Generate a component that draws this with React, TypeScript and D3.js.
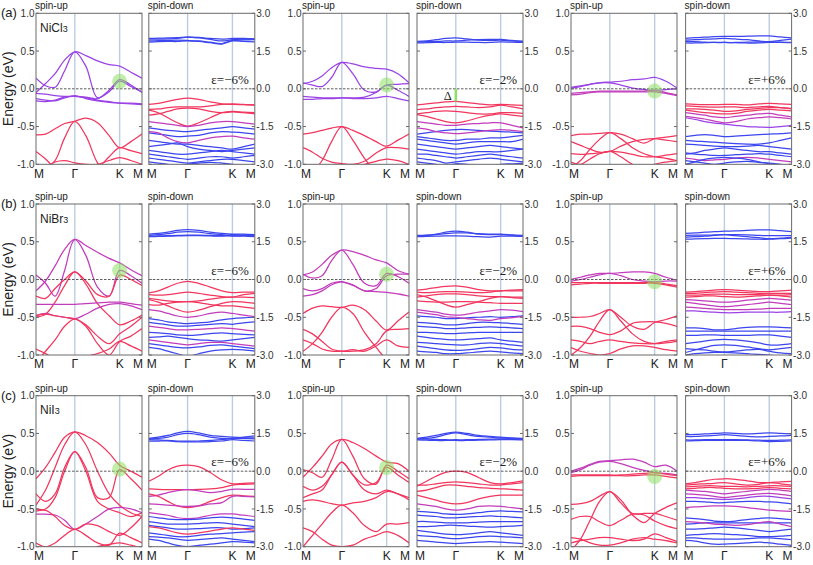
import React from "react";
import * as d3 from "d3";

type Band = [string, number[]];

// k-path sample points (fraction of M-Γ-K-M path length)
const kPts = [0, 0.09, 0.18, 0.27, 0.366, 0.47, 0.58, 0.69, 0.789, 0.895, 1];
const kLabels = ["M", "Γ", "K", "M"];
const kLabelPos = [0, 0.366, 0.789, 1];
const upTicks = [1.0, 0.5, 0.0, -0.5, -1.0];
const dnTicks = [3.0, 1.5, 0.0, -1.5, -3.0];
const rowTags = ["(a)", "(b)", "(c)"];
const compounds = ["NiCl", "NiBr", "NiI"];
const strains = ["ε=−6%", "ε=−2%", "ε=+6%"];
// energy of highlighted crossing at K (spin-up), per row / strain
const hotspotE = [
  [0.1, 0.05, -0.03],
  [0.12, 0.07, -0.03],
  [0.03, 0.05, -0.07],
];
// gap Δ marked in (a) ε=−2% spin-down at Γ
const gapTop = 0.0;
const gapBottom = -0.5;

// ---------- (a) NiCl3 ----------
const aUpM6: Band[] = [
  ["p", [-0.05, 0.07, 0.2, 0.38, 0.49, 0.44, 0.37, 0.32, 0.3, 0.22, 0.14]],
  ["p", [0.14, 0.04, 0.02, 0.24, 0.49, 0.3, -0.12, -0.02, 0.12, 0.05, -0.05]],
  ["p", [-0.06, -0.07, -0.09, -0.1, -0.1, -0.11, -0.13, -0.04, 0.1, 0.03, -0.04]],
  ["p", [-0.13, -0.15, -0.16, -0.12, -0.09, -0.13, -0.16, -0.18, -0.19, -0.19, -0.2]],
  ["p", [-0.16, -0.17, -0.15, -0.11, -0.1, -0.12, -0.15, -0.17, -0.19, -0.2, -0.21]],
  ["r", [-0.61, -0.6, -0.53, -0.46, -0.43, -0.39, -0.45, -0.62, -0.78, -0.7, -0.6]],
  ["r", [-1.15, -1.05, -0.95, -0.65, -0.43, -0.62, -0.98, -1.15, -1.2, -1.2, -1.2]],
  ["r", [-0.83, -0.93, -1.05, -1.1, -1.1, -1.1, -1.05, -0.9, -0.78, -0.82, -0.86]],
  ["r", [-1.1, -1.05, -0.97, -0.95, -0.98, -1.0, -1.0, -0.95, -0.91, -0.95, -1.0]],
];
const aDnM6: Band[] = [
  ["b", [2.0, 2.01, 2.02, 2.03, 2.05, 2.04, 2.0, 1.97, 2.0, 2.0, 1.98]],
  ["b", [1.97, 1.97, 1.98, 2.0, 2.05, 2.02, 1.96, 1.9, 1.95, 1.97, 1.97]],
  ["b", [1.9, 1.91, 1.92, 1.93, 1.92, 1.9, 1.85, 1.8, 1.92, 1.94, 1.95]],
  ["b", [1.85, 1.87, 1.88, 1.88, 1.9, 1.88, 1.83, 1.78, 1.9, 1.88, 1.86]],
  ["r", [-0.62, -0.58, -0.5, -0.42, -0.37, -0.42, -0.52, -0.6, -0.62, -0.63, -0.64]],
  ["r", [-0.82, -0.8, -0.75, -0.72, -0.72, -0.72, -0.68, -0.62, -0.6, -0.62, -0.65]],
  ["r", [-0.85, -0.95, -1.15, -1.35, -1.48, -1.35, -1.15, -0.95, -0.9, -0.93, -0.95]],
  ["r", [-1.05, -1.0, -0.9, -0.8, -0.77, -0.8, -0.9, -0.95, -0.92, -0.95, -1.0]],
  ["m", [-1.3, -1.35, -1.4, -1.45, -1.5, -1.45, -1.35, -1.3, -1.3, -1.35, -1.4]],
  ["b", [-1.55, -1.6, -1.65, -1.68, -1.7, -1.65, -1.6, -1.55, -1.5, -1.55, -1.6]],
  ["b", [-1.75, -1.8, -1.85, -1.9, -1.88, -1.85, -1.75, -1.7, -1.72, -1.75, -1.8]],
  ["m", [-1.7, -1.75, -1.95, -2.1, -2.15, -2.05, -1.95, -1.9, -1.88, -1.95, -2.0]],
  ["b", [-2.05, -2.1, -2.15, -2.2, -2.2, -2.25, -2.3, -2.35, -2.4, -2.3, -2.2]],
  ["b", [-2.3, -2.25, -2.2, -2.15, -2.3, -2.4, -2.45, -2.5, -2.45, -2.4, -2.35]],
  ["b", [-2.45, -2.5, -2.55, -2.6, -2.6, -2.55, -2.5, -2.45, -2.5, -2.55, -2.6]],
  ["b", [-2.6, -2.65, -2.7, -2.75, -2.8, -2.75, -2.7, -2.7, -2.75, -2.7, -2.65]],
  ["b", [-2.75, -2.8, -2.85, -2.9, -2.95, -2.9, -2.85, -2.8, -2.8, -2.85, -2.9]],
  ["b", [-2.9, -2.95, -3.0, -3.05, -3.0, -2.95, -2.92, -2.95, -3.0, -3.05, -3.1]],
];
const aUpM2: Band[] = [
  ["p", [0.07, 0.1, 0.17, 0.28, 0.35, 0.33, 0.29, 0.27, 0.26, 0.2, 0.08]],
  ["p", [0.08, 0.05, 0.03, 0.15, 0.35, 0.2, -0.02, -0.04, 0.05, -0.02, -0.1]],
  ["p", [-0.1, -0.11, -0.12, -0.12, -0.12, -0.12, -0.11, -0.05, 0.05, 0.06, 0.07]],
  ["p", [-0.14, -0.14, -0.13, -0.13, -0.12, -0.13, -0.13, -0.12, -0.1, -0.13, -0.16]],
  ["r", [-0.6, -0.58, -0.55, -0.52, -0.5, -0.55, -0.62, -0.7, -0.76, -0.68, -0.6]],
  ["r", [-1.2, -1.1, -0.95, -0.7, -0.5, -0.68, -0.92, -1.1, -1.2, -1.2, -1.2]],
  ["r", [-0.78, -0.84, -0.92, -0.97, -0.99, -1.0, -0.96, -0.85, -0.78, -0.78, -0.8]],
  ["r", [-1.1, -1.1, -1.1, -1.1, -1.1, -1.05, -1.0, -0.96, -0.93, -0.95, -1.0]],
];
const aDnM2: Band[] = [
  ["b", [1.88, 1.9, 1.95, 2.0, 2.02, 1.98, 1.93, 1.92, 1.93, 1.9, 1.88]],
  ["b", [1.86, 1.87, 1.88, 1.9, 1.9, 1.93, 1.95, 1.96, 1.96, 1.92, 1.88]],
  ["b", [1.82, 1.83, 1.84, 1.84, 1.85, 1.85, 1.84, 1.84, 1.86, 1.85, 1.84]],
  ["r", [-0.64, -0.6, -0.56, -0.52, -0.5, -0.55, -0.6, -0.64, -0.62, -0.64, -0.66]],
  ["r", [-0.83, -0.8, -0.75, -0.72, -0.7, -0.72, -0.75, -0.72, -0.65, -0.72, -0.8]],
  ["r", [-1.0, -0.95, -0.9, -0.88, -0.9, -0.95, -1.0, -1.0, -0.95, -0.95, -0.98]],
  ["r", [-1.03, -1.1, -1.2, -1.3, -1.35, -1.28, -1.15, -1.05, -1.0, -1.05, -1.1]],
  ["m", [-1.3, -1.35, -1.4, -1.45, -1.45, -1.4, -1.38, -1.35, -1.35, -1.45, -1.55]],
  ["b", [-1.8, -1.75, -1.7, -1.65, -1.62, -1.62, -1.65, -1.68, -1.7, -1.72, -1.75]],
  ["m", [-1.55, -1.6, -1.7, -1.75, -1.78, -1.75, -1.7, -1.65, -1.62, -1.65, -1.7]],
  ["b", [-1.9, -1.95, -2.0, -2.05, -2.05, -2.0, -2.0, -1.95, -1.95, -1.9, -1.85]],
  ["b", [-2.0, -2.05, -2.1, -2.15, -2.2, -2.15, -2.1, -2.1, -2.1, -2.1, -2.0]],
  ["b", [-2.2, -2.25, -2.3, -2.35, -2.4, -2.35, -2.3, -2.25, -2.3, -2.35, -2.4]],
  ["b", [-2.4, -2.45, -2.5, -2.55, -2.6, -2.55, -2.5, -2.5, -2.5, -2.45, -2.4]],
  ["b", [-2.6, -2.6, -2.65, -2.7, -2.75, -2.7, -2.65, -2.6, -2.65, -2.7, -2.75]],
  ["b", [-2.75, -2.8, -2.85, -2.95, -2.9, -2.85, -2.8, -2.75, -2.8, -2.85, -2.9]],
  ["b", [-2.9, -2.95, -3.0, -3.05, -2.98, -3.0, -3.05, -3.1, -3.0, -2.98, -2.95]],
];
const aUpP6: Band[] = [
  ["p", [0.02, 0.04, 0.06, 0.08, 0.09, 0.1, 0.12, 0.13, 0.15, 0.1, 0.01]],
  ["p", [0.01, 0.03, 0.06, 0.08, 0.08, 0.05, 0.01, -0.01, -0.02, -0.01, 0.0]],
  ["m", [-0.06, -0.05, -0.04, -0.03, -0.03, -0.03, -0.03, -0.03, -0.02, -0.05, -0.08]],
  ["m", [-0.08, -0.07, -0.05, -0.04, -0.04, -0.04, -0.04, -0.04, -0.04, -0.06, -0.09]],
  ["r", [-0.62, -0.6, -0.6, -0.59, -0.58, -0.6, -0.66, -0.72, -0.66, -0.64, -0.62]],
  ["r", [-1.05, -0.95, -0.8, -0.67, -0.58, -0.66, -0.78, -0.86, -0.9, -0.92, -0.95]],
  ["r", [-0.7, -0.75, -0.8, -0.84, -0.83, -0.76, -0.7, -0.67, -0.66, -0.68, -0.7]],
  ["r", [-0.86, -0.87, -0.86, -0.85, -0.83, -0.84, -0.87, -0.9, -0.9, -0.88, -0.86]],
  ["r", [-0.97, -1.0, -0.93, -0.86, -0.83, -0.9, -1.0, -1.05, -1.0, -0.97, -0.95]],
];
const aDnP6: Band[] = [
  ["b", [2.0, 2.03, 2.05, 2.07, 2.08, 2.08, 2.09, 2.1, 2.1, 2.06, 2.02]],
  ["b", [1.93, 1.95, 1.97, 1.98, 2.0, 1.98, 1.95, 1.9, 1.87, 1.92, 1.97]],
  ["b", [1.82, 1.82, 1.83, 1.84, 1.84, 1.83, 1.82, 1.82, 1.84, 1.84, 1.83]],
  ["b", [1.88, 1.87, 1.85, 1.84, 1.84, 1.84, 1.85, 1.86, 1.86, 1.85, 1.84]],
  ["r", [-0.6, -0.62, -0.63, -0.63, -0.62, -0.62, -0.64, -0.6, -0.58, -0.6, -0.62]],
  ["r", [-0.68, -0.7, -0.72, -0.73, -0.72, -0.72, -0.75, -0.72, -0.7, -0.75, -0.8]],
  ["r", [-0.8, -0.8, -0.82, -0.85, -0.9, -0.88, -0.82, -0.78, -0.75, -0.75, -0.78]],
  ["r", [-0.85, -0.9, -0.95, -0.98, -1.0, -0.98, -0.9, -0.85, -0.82, -0.85, -0.88]],
  ["m", [-0.95, -1.0, -1.05, -1.12, -1.15, -1.1, -1.05, -1.0, -0.98, -1.05, -1.12]],
  ["m", [-1.1, -1.15, -1.2, -1.28, -1.35, -1.3, -1.2, -1.15, -1.12, -1.15, -1.2]],
  ["p", [-1.15, -1.22, -1.3, -1.36, -1.4, -1.45, -1.5, -1.52, -1.53, -1.5, -1.45]],
  ["b", [-1.9, -1.85, -1.82, -1.85, -1.9, -1.88, -1.85, -1.82, -1.8, -1.78, -1.75]],
  ["b", [-2.05, -2.08, -2.1, -2.12, -2.15, -2.18, -2.2, -2.2, -2.15, -2.05, -1.95]],
  ["b", [-2.2, -2.22, -2.25, -2.28, -2.3, -2.3, -2.28, -2.25, -2.3, -2.35, -2.4]],
  ["b", [-2.6, -2.55, -2.45, -2.4, -2.35, -2.4, -2.45, -2.5, -2.5, -2.55, -2.6]],
  ["b", [-2.55, -2.6, -2.62, -2.65, -2.65, -2.62, -2.6, -2.58, -2.6, -2.65, -2.7]],
  ["m", [-2.75, -2.8, -2.85, -2.82, -2.8, -2.75, -2.72, -2.75, -2.8, -2.85, -2.9]],
  ["b", [-2.85, -2.9, -2.95, -3.0, -2.95, -2.9, -2.88, -2.92, -2.95, -3.0, -3.05]],
  ["b", [-3.0, -2.9, -2.8, -2.75, -2.72, -2.75, -2.8, -2.9, -2.98, -3.05, -3.1]],
];

// ---------- (b) NiBr3 ----------
const bUpM6: Band[] = [
  ["m", [0.06, -0.05, -0.22, 0.12, 0.53, 0.45, 0.36, 0.28, 0.22, 0.13, 0.05]],
  ["m", [-0.15, -0.02, 0.18, 0.4, 0.53, 0.32, -0.1, -0.22, 0.12, 0.05, -0.05]],
  ["r", [-0.22, -0.25, -0.12, 0.0, 0.1, -0.02, -0.2, -0.22, 0.06, 0.0, -0.08]],
  ["r", [-0.5, -0.46, -0.3, -0.08, 0.1, -0.06, -0.32, -0.48, -0.6, -0.55, -0.47]],
  ["m", [-0.33, -0.33, -0.33, -0.33, -0.33, -0.32, -0.31, -0.3, -0.3, -0.32, -0.34]],
  ["m", [-0.48, -0.45, -0.48, -0.5, -0.52, -0.46, -0.38, -0.33, -0.32, -0.35, -0.4]],
  ["r", [-0.48, -0.46, -0.48, -0.5, -0.52, -0.6, -0.75, -0.85, -0.72, -0.62, -0.5]],
  ["r", [-1.1, -0.95, -0.8, -0.62, -0.52, -0.62, -0.85, -1.0, -0.82, -0.75, -0.65]],
  ["r", [-0.92, -0.98, -1.05, -1.05, -1.05, -1.02, -0.98, -0.92, -0.82, -0.88, -0.95]],
];
const bDnM6: Band[] = [
  ["b", [1.8, 1.83, 1.88, 1.95, 1.98, 1.95, 1.88, 1.83, 1.8, 1.8, 1.78]],
  ["b", [1.75, 1.78, 1.82, 1.88, 1.9, 1.88, 1.82, 1.78, 1.72, 1.75, 1.78]],
  ["b", [1.72, 1.73, 1.74, 1.75, 1.76, 1.76, 1.75, 1.74, 1.78, 1.76, 1.74]],
  ["b", [1.7, 1.71, 1.72, 1.73, 1.74, 1.74, 1.73, 1.72, 1.74, 1.72, 1.7]],
  ["r", [-0.53, -0.45, -0.3, -0.15, -0.07, -0.15, -0.3, -0.45, -0.52, -0.5, -0.5]],
  ["r", [-0.6, -0.62, -0.6, -0.55, -0.5, -0.55, -0.62, -0.68, -0.7, -0.6, -0.55]],
  ["r", [-0.75, -0.8, -0.85, -0.88, -0.88, -0.85, -0.78, -0.72, -0.7, -0.7, -0.72]],
  ["r", [-0.8, -0.9, -1.05, -1.2, -1.3, -1.22, -1.08, -0.95, -0.88, -0.9, -0.95]],
  ["r", [-1.0, -1.02, -0.95, -0.9, -0.88, -0.92, -1.0, -1.05, -1.05, -1.1, -1.15]],
  ["m", [-1.2, -1.25, -1.35, -1.45, -1.5, -1.45, -1.35, -1.3, -1.35, -1.42, -1.48]],
  ["b", [-1.55, -1.6, -1.68, -1.72, -1.75, -1.72, -1.68, -1.6, -1.55, -1.52, -1.5]],
  ["b", [-1.7, -1.75, -1.8, -1.85, -1.85, -1.82, -1.78, -1.75, -1.78, -1.72, -1.68]],
  ["m", [-1.85, -1.9, -1.95, -2.0, -2.0, -1.98, -1.95, -1.92, -1.95, -2.0, -2.05]],
  ["b", [-2.1, -2.12, -2.15, -2.2, -2.22, -2.2, -2.15, -2.12, -2.15, -2.18, -2.2]],
  ["b", [-2.3, -2.28, -2.25, -2.3, -2.35, -2.4, -2.42, -2.45, -2.4, -2.35, -2.3]],
  ["m", [-2.4, -2.45, -2.5, -2.55, -2.6, -2.55, -2.5, -2.5, -2.55, -2.6, -2.65]],
  ["b", [-2.55, -2.6, -2.65, -2.7, -2.72, -2.68, -2.62, -2.6, -2.65, -2.7, -2.75]],
  ["b", [-2.7, -2.75, -2.85, -2.95, -3.05, -2.95, -2.85, -2.8, -2.78, -2.8, -2.85]],
];
const bUpM2: Band[] = [
  ["m", [0.06, 0.1, 0.2, 0.32, 0.39, 0.37, 0.32, 0.26, 0.22, 0.12, 0.07]],
  ["m", [0.07, 0.02, 0.05, 0.25, 0.39, 0.2, -0.05, -0.08, 0.08, 0.04, -0.05]],
  ["m", [-0.12, -0.15, -0.12, -0.05, -0.03, -0.07, -0.15, -0.12, 0.05, 0.07, 0.07]],
  ["m", [-0.22, -0.2, -0.15, -0.07, -0.03, -0.08, -0.15, -0.16, -0.17, -0.19, -0.22]],
  ["r", [-0.45, -0.38, -0.35, -0.36, -0.37, -0.34, -0.4, -0.55, -0.67, -0.55, -0.43]],
  ["r", [-0.95, -0.85, -0.7, -0.5, -0.37, -0.45, -0.7, -0.9, -1.05, -1.1, -1.1]],
  ["r", [-0.66, -0.72, -0.82, -0.92, -0.95, -0.95, -0.93, -0.85, -0.68, -0.66, -0.65]],
  ["r", [-0.8, -0.85, -0.92, -0.95, -0.95, -0.93, -0.95, -0.88, -0.8, -0.88, -0.9]],
];
const bDnM2: Band[] = [
  ["b", [1.72, 1.75, 1.8, 1.88, 1.92, 1.88, 1.8, 1.78, 1.78, 1.76, 1.75]],
  ["b", [1.75, 1.76, 1.78, 1.82, 1.85, 1.85, 1.82, 1.8, 1.8, 1.77, 1.74]],
  ["b", [1.7, 1.71, 1.72, 1.73, 1.73, 1.72, 1.7, 1.68, 1.72, 1.72, 1.71]],
  ["r", [-0.42, -0.38, -0.32, -0.27, -0.25, -0.3, -0.4, -0.45, -0.45, -0.42, -0.4]],
  ["r", [-0.5, -0.52, -0.5, -0.48, -0.48, -0.5, -0.52, -0.5, -0.45, -0.45, -0.45]],
  ["r", [-0.7, -0.65, -0.6, -0.57, -0.57, -0.6, -0.65, -0.68, -0.68, -0.7, -0.7]],
  ["r", [-0.6, -0.7, -0.85, -1.0, -1.1, -1.0, -0.88, -0.75, -0.68, -0.72, -0.75]],
  ["r", [-0.85, -0.88, -0.9, -0.9, -0.88, -0.88, -0.9, -0.92, -0.95, -0.95, -0.95]],
  ["m", [-1.2, -1.25, -1.3, -1.38, -1.42, -1.38, -1.3, -1.25, -1.2, -1.22, -1.28]],
  ["b", [-1.45, -1.48, -1.5, -1.55, -1.55, -1.52, -1.5, -1.48, -1.5, -1.48, -1.45]],
  ["m", [-1.3, -1.35, -1.4, -1.48, -1.5, -1.55, -1.6, -1.62, -1.55, -1.52, -1.48]],
  ["b", [-1.7, -1.72, -1.75, -1.8, -1.8, -1.75, -1.7, -1.7, -1.72, -1.75, -1.78]],
  ["b", [-1.85, -1.88, -1.9, -1.95, -1.95, -1.92, -1.9, -1.88, -1.9, -1.92, -1.95]],
  ["b", [-2.1, -2.1, -2.12, -2.15, -2.15, -2.12, -2.1, -2.1, -2.1, -2.1, -2.1]],
  ["b", [-2.25, -2.3, -2.35, -2.38, -2.4, -2.38, -2.35, -2.32, -2.4, -2.45, -2.5]],
  ["b", [-2.5, -2.52, -2.55, -2.58, -2.6, -2.6, -2.55, -2.52, -2.55, -2.6, -2.65]],
  ["b", [-2.65, -2.7, -2.75, -2.8, -2.82, -2.8, -2.75, -2.7, -2.72, -2.78, -2.8]],
  ["b", [-2.85, -2.88, -2.9, -2.95, -2.95, -2.92, -2.88, -2.85, -2.88, -2.92, -2.95]],
];
const bUpP6: Band[] = [
  ["m", [0.0, 0.03, 0.06, 0.08, 0.08, 0.09, 0.1, 0.1, 0.08, 0.03, -0.01]],
  ["m", [-0.02, 0.0, 0.03, 0.06, 0.08, 0.05, 0.0, -0.02, -0.03, -0.02, -0.02]],
  ["r", [-0.04, -0.04, -0.04, -0.04, -0.04, -0.04, -0.04, -0.04, -0.04, -0.06, -0.08]],
  ["r", [-0.07, -0.06, -0.05, -0.05, -0.05, -0.05, -0.05, -0.05, -0.05, -0.07, -0.1]],
  ["r", [-0.5, -0.5, -0.49, -0.45, -0.4, -0.5, -0.62, -0.66, -0.57, -0.53, -0.48]],
  ["r", [-0.62, -0.62, -0.65, -0.7, -0.73, -0.68, -0.58, -0.56, -0.56, -0.58, -0.62]],
  ["r", [-1.0, -0.9, -0.75, -0.55, -0.4, -0.55, -0.72, -0.82, -0.85, -0.84, -0.82]],
  ["r", [-0.8, -0.82, -0.85, -0.82, -0.8, -0.82, -0.84, -0.85, -0.85, -0.82, -0.8]],
  ["r", [-0.9, -0.95, -0.98, -1.0, -0.98, -0.92, -0.88, -0.88, -0.9, -0.93, -0.95]],
];
const bDnP6: Band[] = [
  ["b", [1.83, 1.85, 1.88, 1.9, 1.92, 1.93, 1.95, 1.97, 1.97, 1.94, 1.9]],
  ["b", [1.68, 1.7, 1.72, 1.75, 1.78, 1.74, 1.7, 1.66, 1.62, 1.64, 1.67]],
  ["b", [1.6, 1.61, 1.62, 1.63, 1.63, 1.62, 1.61, 1.6, 1.6, 1.62, 1.64]],
  ["b", [1.75, 1.76, 1.76, 1.77, 1.78, 1.78, 1.77, 1.75, 1.74, 1.74, 1.74]],
  ["r", [-0.5, -0.48, -0.45, -0.42, -0.4, -0.42, -0.45, -0.48, -0.48, -0.45, -0.42]],
  ["r", [-0.55, -0.55, -0.52, -0.5, -0.48, -0.5, -0.52, -0.55, -0.55, -0.55, -0.55]],
  ["r", [-0.62, -0.62, -0.6, -0.58, -0.58, -0.6, -0.6, -0.6, -0.62, -0.62, -0.6]],
  ["r", [-0.7, -0.68, -0.65, -0.65, -0.68, -0.7, -0.68, -0.65, -0.62, -0.65, -0.7]],
  ["m", [-0.8, -0.82, -0.85, -0.88, -0.9, -0.88, -0.82, -0.78, -0.75, -0.78, -0.82]],
  ["m", [-0.9, -0.95, -1.0, -1.05, -1.08, -1.05, -1.0, -0.95, -0.9, -0.95, -1.0]],
  ["m", [-1.1, -1.12, -1.15, -1.18, -1.2, -1.2, -1.2, -1.18, -1.15, -1.15, -1.15]],
  ["p", [-1.25, -1.25, -1.28, -1.3, -1.32, -1.32, -1.3, -1.3, -1.3, -1.3, -1.28]],
  ["b", [-1.92, -1.92, -1.95, -2.0, -2.0, -1.95, -1.9, -1.88, -1.88, -1.9, -1.92]],
  ["b", [-2.05, -2.05, -2.05, -2.05, -2.05, -2.05, -2.05, -2.05, -2.05, -2.05, -2.05]],
  ["b", [-2.22, -2.22, -2.2, -2.2, -2.22, -2.22, -2.22, -2.2, -2.2, -2.25, -2.3]],
  ["b", [-2.55, -2.5, -2.45, -2.4, -2.38, -2.4, -2.45, -2.52, -2.6, -2.6, -2.55]],
  ["b", [-2.9, -2.8, -2.7, -2.62, -2.6, -2.62, -2.68, -2.75, -2.8, -2.75, -2.7]],
  ["b", [-2.75, -2.78, -2.8, -2.85, -2.88, -2.85, -2.8, -2.78, -2.85, -2.92, -2.95]],
  ["b", [-3.0, -2.95, -2.92, -2.9, -2.9, -2.92, -2.95, -2.98, -3.0, -3.05, -3.1]],
];

// ---------- (c) NiI3 ----------
const cUpM6: Band[] = [
  ["r", [-0.1, 0.05, 0.25, 0.45, 0.52, 0.47, 0.38, 0.24, 0.08, 0.0, -0.08]],
  ["r", [-0.45, -0.25, 0.05, 0.35, 0.52, 0.35, 0.0, -0.3, -0.45, -0.55, -0.6]],
  ["r", [-0.3, -0.4, -0.3, 0.05, 0.26, 0.05, -0.35, -0.35, 0.02, -0.1, -0.25]],
  ["r", [-0.5, -0.5, -0.35, 0.0, 0.26, 0.0, -0.4, -0.5, -0.55, -0.6, -0.55]],
  ["m", [-0.57, -0.57, -0.58, -0.65, -0.77, -0.7, -0.6, -0.5, -0.48, -0.5, -0.55]],
  ["r", [-0.53, -0.52, -0.6, -0.72, -0.77, -0.7, -0.72, -0.8, -0.85, -0.75, -0.6]],
  ["r", [-0.95, -1.0, -0.95, -0.85, -0.77, -0.85, -0.95, -0.98, -0.82, -0.88, -0.95]],
  ["r", [-1.1, -1.05, -1.02, -1.05, -1.1, -1.05, -1.0, -0.97, -0.95, -0.98, -1.02]],
];
const cDnM6: Band[] = [
  ["b", [1.3, 1.35, 1.42, 1.52, 1.58, 1.52, 1.42, 1.38, 1.35, 1.33, 1.32]],
  ["b", [1.28, 1.3, 1.35, 1.45, 1.5, 1.45, 1.35, 1.3, 1.3, 1.35, 1.4]],
  ["b", [1.25, 1.24, 1.22, 1.2, 1.2, 1.2, 1.22, 1.25, 1.3, 1.3, 1.28]],
  ["b", [1.2, 1.2, 1.2, 1.18, 1.17, 1.17, 1.18, 1.2, 1.25, 1.22, 1.2]],
  ["r", [-0.4, -0.2, 0.05, 0.2, 0.24, 0.18, -0.05, -0.35, -0.5, -0.48, -0.46]],
  ["r", [-0.7, -0.72, -0.73, -0.73, -0.73, -0.72, -0.7, -0.65, -0.55, -0.52, -0.5]],
  ["m", [-1.0, -0.95, -0.85, -0.77, -0.73, -0.78, -0.85, -0.8, -0.72, -0.72, -0.72]],
  ["r", [-0.9, -1.0, -1.2, -1.38, -1.45, -1.38, -1.2, -1.05, -0.95, -0.98, -1.0]],
  ["m", [-1.3, -1.32, -1.35, -1.38, -1.4, -1.38, -1.3, -1.25, -1.0, -1.0, -1.02]],
  ["m", [-1.65, -1.7, -1.75, -1.85, -1.88, -1.85, -1.75, -1.7, -1.7, -1.75, -1.8]],
  ["b", [-1.8, -1.85, -1.9, -1.92, -1.92, -1.9, -1.85, -1.82, -1.85, -1.9, -1.95]],
  ["b", [-2.0, -2.05, -2.1, -2.1, -2.1, -2.08, -2.05, -2.05, -2.1, -2.15, -2.2]],
  ["b", [-2.15, -2.2, -2.25, -2.3, -2.3, -2.28, -2.25, -2.25, -2.3, -2.28, -2.25]],
  ["r", [-2.2, -2.25, -2.35, -2.45, -2.5, -2.45, -2.38, -2.3, -2.25, -2.3, -2.35]],
  ["b", [-2.45, -2.5, -2.55, -2.6, -2.6, -2.55, -2.5, -2.48, -2.45, -2.42, -2.4]],
  ["b", [-2.6, -2.62, -2.65, -2.7, -2.75, -2.72, -2.68, -2.65, -2.7, -2.75, -2.8]],
  ["b", [-2.7, -2.75, -2.85, -2.95, -3.0, -2.95, -2.9, -2.85, -2.8, -2.82, -2.85]],
];
const cUpM2: Band[] = [
  ["r", [-0.08, 0.05, 0.2, 0.36, 0.42, 0.38, 0.3, 0.2, 0.12, 0.1, 0.0]],
  ["r", [0.02, -0.02, -0.08, 0.15, 0.42, 0.2, -0.1, -0.17, 0.08, 0.0, -0.1]],
  ["r", [-0.2, -0.25, -0.2, -0.05, 0.12, -0.05, -0.18, -0.15, 0.05, -0.05, -0.15]],
  ["r", [-0.35, -0.3, -0.25, -0.05, 0.12, -0.05, -0.25, -0.3, -0.25, -0.3, -0.35]],
  ["r", [-0.4, -0.38, -0.4, -0.43, -0.45, -0.42, -0.4, -0.35, -0.27, -0.3, -0.38]],
  ["r", [-1.0, -0.85, -0.7, -0.55, -0.45, -0.55, -0.72, -0.8, -0.7, -0.7, -0.68]],
  ["r", [-0.75, -0.8, -0.9, -0.98, -1.0, -0.98, -0.9, -0.85, -0.8, -0.85, -0.95]],
];
const cDnM2: Band[] = [
  ["b", [1.3, 1.35, 1.42, 1.5, 1.55, 1.5, 1.42, 1.38, 1.35, 1.32, 1.3]],
  ["b", [1.28, 1.3, 1.35, 1.45, 1.52, 1.45, 1.38, 1.35, 1.32, 1.3, 1.28]],
  ["b", [1.27, 1.27, 1.26, 1.25, 1.25, 1.25, 1.26, 1.27, 1.28, 1.27, 1.26]],
  ["b", [1.24, 1.23, 1.22, 1.22, 1.22, 1.22, 1.23, 1.24, 1.25, 1.25, 1.24]],
  ["r", [-0.6, -0.4, -0.2, -0.05, 0.0, -0.05, -0.25, -0.45, -0.5, -0.45, -0.38]],
  ["r", [-0.55, -0.55, -0.5, -0.45, -0.42, -0.45, -0.5, -0.55, -0.55, -0.5, -0.45]],
  ["r", [-0.8, -0.75, -0.65, -0.55, -0.55, -0.6, -0.65, -0.68, -0.7, -0.72, -0.75]],
  ["r", [-0.95, -1.05, -1.15, -1.25, -1.3, -1.25, -1.1, -1.0, -0.95, -0.95, -0.95]],
  ["m", [-1.3, -1.35, -1.4, -1.5, -1.55, -1.5, -1.4, -1.38, -1.4, -1.45, -1.5]],
  ["b", [-1.6, -1.62, -1.65, -1.7, -1.72, -1.7, -1.65, -1.6, -1.58, -1.6, -1.62]],
  ["b", [-1.75, -1.78, -1.8, -1.85, -1.85, -1.82, -1.8, -1.78, -1.8, -1.82, -1.85]],
  ["b", [-2.0, -2.0, -2.02, -2.05, -2.05, -2.05, -2.02, -2.0, -2.0, -2.0, -2.0]],
  ["b", [-2.2, -2.2, -2.18, -2.15, -2.15, -2.18, -2.2, -2.22, -2.2, -2.18, -2.15]],
  ["b", [-2.35, -2.4, -2.45, -2.5, -2.52, -2.5, -2.45, -2.4, -2.45, -2.5, -2.55]],
  ["b", [-2.55, -2.58, -2.6, -2.65, -2.68, -2.65, -2.6, -2.58, -2.6, -2.62, -2.65]],
  ["b", [-2.75, -2.78, -2.82, -2.85, -2.88, -2.85, -2.82, -2.8, -2.82, -2.85, -2.88]],
];
const cUpP6: Band[] = [
  ["m", [0.0, 0.04, 0.09, 0.13, 0.14, 0.15, 0.16, 0.12, 0.06, 0.08, 0.0]],
  ["m", [-0.02, 0.02, 0.08, 0.12, 0.13, 0.1, 0.05, 0.01, -0.02, -0.03, -0.05]],
  ["r", [-0.05, -0.05, -0.05, -0.05, -0.05, -0.05, -0.04, -0.03, -0.02, -0.04, -0.06]],
  ["r", [-0.07, -0.06, -0.06, -0.06, -0.06, -0.06, -0.06, -0.05, -0.05, -0.07, -0.09]],
  ["r", [-0.44, -0.43, -0.4, -0.33, -0.27, -0.38, -0.58, -0.68, -0.56, -0.48, -0.42]],
  ["r", [-1.05, -0.9, -0.65, -0.4, -0.27, -0.42, -0.56, -0.56, -0.56, -0.6, -0.65]],
  ["r", [-0.64, -0.6, -0.6, -0.67, -0.72, -0.65, -0.57, -0.58, -0.66, -0.72, -0.76]],
  ["r", [-0.95, -0.92, -0.9, -0.88, -0.88, -0.9, -0.92, -0.9, -0.83, -0.88, -0.93]],
  ["r", [-0.88, -0.9, -0.95, -0.98, -0.98, -0.95, -0.9, -0.88, -0.9, -0.92, -0.95]],
];
const cDnP6: Band[] = [
  ["b", [1.45, 1.46, 1.48, 1.5, 1.52, 1.5, 1.48, 1.5, 1.52, 1.5, 1.48]],
  ["b", [1.38, 1.38, 1.4, 1.42, 1.45, 1.42, 1.38, 1.36, 1.38, 1.4, 1.42]],
  ["b", [1.2, 1.21, 1.22, 1.22, 1.22, 1.22, 1.22, 1.2, 1.18, 1.19, 1.2]],
  ["b", [1.24, 1.24, 1.25, 1.25, 1.25, 1.25, 1.24, 1.23, 1.22, 1.23, 1.24]],
  ["r", [-0.5, -0.45, -0.38, -0.32, -0.3, -0.32, -0.38, -0.45, -0.45, -0.42, -0.4]],
  ["r", [-0.55, -0.52, -0.5, -0.48, -0.45, -0.5, -0.55, -0.52, -0.45, -0.5, -0.55]],
  ["r", [-0.62, -0.6, -0.58, -0.58, -0.6, -0.6, -0.62, -0.6, -0.58, -0.58, -0.6]],
  ["r", [-0.7, -0.68, -0.65, -0.65, -0.68, -0.7, -0.7, -0.68, -0.65, -0.68, -0.7]],
  ["m", [-0.75, -0.78, -0.8, -0.85, -0.9, -0.85, -0.8, -0.75, -0.72, -0.75, -0.8]],
  ["m", [-0.9, -0.92, -0.95, -1.0, -1.05, -1.0, -0.95, -0.9, -0.88, -0.92, -0.98]],
  ["p", [-1.05, -1.05, -1.08, -1.1, -1.12, -1.1, -1.05, -1.0, -1.0, -1.05, -1.1]],
  ["b", [-1.2, -1.2, -1.22, -1.25, -1.25, -1.22, -1.2, -1.2, -1.22, -1.25, -1.3]],
  ["m", [-1.45, -1.42, -1.4, -1.38, -1.38, -1.4, -1.45, -1.5, -1.55, -1.58, -1.6]],
  ["b", [-1.85, -1.88, -1.92, -1.98, -2.0, -1.98, -1.92, -1.88, -1.85, -1.88, -1.92]],
  ["b", [-2.1, -2.08, -2.05, -2.05, -2.05, -2.05, -2.05, -2.05, -2.05, -2.05, -2.05]],
  ["m", [-2.0, -2.02, -2.05, -2.1, -2.12, -2.15, -2.12, -2.05, -2.0, -2.1, -2.2]],
  ["b", [-2.3, -2.3, -2.28, -2.25, -2.22, -2.25, -2.3, -2.35, -2.4, -2.35, -2.3]],
  ["b", [-2.55, -2.52, -2.5, -2.48, -2.5, -2.52, -2.55, -2.6, -2.6, -2.58, -2.55]],
  ["b", [-2.65, -2.65, -2.68, -2.7, -2.7, -2.7, -2.68, -2.65, -2.65, -2.68, -2.72]],
  ["b", [-2.75, -2.78, -2.85, -2.9, -2.9, -2.88, -2.85, -2.82, -2.85, -2.9, -2.95]],
];

const upBands = [
  [aUpM6, aUpM2, aUpP6],
  [bUpM6, bUpM2, bUpP6],
  [cUpM6, cUpM2, cUpP6],
];
const dnBands = [
  [aDnM6, aDnM2, aDnP6],
  [bDnM6, bDnM2, bDnP6],
  [cDnM6, cDnM2, cDnP6],
];

// ---------- styling / layout ----------
const bandColor: Record<string, string> = {
  r: "#f2365e",
  m: "#c23cbc",
  p: "#9a42e6",
  b: "#3c46ee",
};
const SANS = "'Liberation Sans', Arial, Helvetica, sans-serif";
const SERIF = "'Liberation Serif', 'Times New Roman', serif";
const rowTop = [13.3, 204, 395.7];
const panelH = 151;
const panelW = 106;
const upLeft = [36, 303, 571];
const dnLeft = [148.8, 417, 685.6];

function Panel(props: {
  id: string;
  x0: number;
  y0: number;
  bands: Band[];
  dom: [number, number];
  ticks: number[];
  side: "left" | "right";
  title: string;
}) {
  const { id, x0, y0, bands, dom, ticks, side, title } = props;
  const xs = d3.scaleLinear().domain([0, 1]).range([x0, x0 + panelW]);
  const ys = d3.scaleLinear().domain(dom).range([y0 + panelH, y0]);
  const line = d3
    .line<number>()
    .x((_, i) => xs(kPts[i]))
    .y((d) => ys(d))
    .curve(d3.curveCatmullRom.alpha(0.5));
  return (
    <g>
      <defs>
        <clipPath id={id}>
          <rect x={x0} y={y0} width={panelW} height={panelH} />
        </clipPath>
      </defs>
      {[kLabelPos[1], kLabelPos[2]].map((k, i) => (
        <line key={i} x1={xs(k)} x2={xs(k)} y1={y0} y2={y0 + panelH} stroke="#bccde0" strokeWidth={1.4} />
      ))}
      <g clipPath={`url(#${id})`}>
        {bands.map((b, i) => (
          <path key={i} d={line(b[1]) || ""} fill="none" stroke={bandColor[b[0]]} strokeWidth={1.25} />
        ))}
      </g>
      <line x1={x0} x2={x0 + panelW} y1={ys(0)} y2={ys(0)} stroke="#333" strokeWidth={0.8} strokeDasharray="2.5,1.5" />
      <rect x={x0} y={y0} width={panelW} height={panelH} fill="none" stroke="#6a6a6a" strokeWidth={1} />
      {ticks.map((t, i) => (
        <g key={i}>
          <line x1={x0} x2={x0 + 3} y1={ys(t)} y2={ys(t)} stroke="#6a6a6a" />
          <line x1={x0 + panelW - 3} x2={x0 + panelW} y1={ys(t)} y2={ys(t)} stroke="#6a6a6a" />
          <text
            x={side === "left" ? x0 - 1.5 : x0 + panelW + 1.5}
            y={ys(t)}
            dy="0.36em"
            textAnchor={side === "left" ? "end" : "start"}
            fontSize={10}
            fontFamily={SANS}
            fill="#333"
          >
            {t.toFixed(1)}
          </text>
        </g>
      ))}
      {kLabels.map((l, i) => {
        const x = i === 0 ? xs(kLabelPos[i]) + 3 : i === 3 ? xs(kLabelPos[i]) - 4 : xs(kLabelPos[i]);
        return (
          <text key={i} x={x} y={y0 + panelH + 13.4} textAnchor="middle" fontSize={12} fontFamily={SANS} fill="#222">
            {l}
          </text>
        );
      })}
      <text x={x0 - 1} y={y0 - 4} fontSize={10} fontFamily={SANS} fill="#222">
        {title}
      </text>
    </g>
  );
}

export default function App() {
  return (
    <svg
      width={813}
      height={565}
      style={{ position: "absolute", left: 0, top: 0, background: "#fff" }}
    >
      <rect x={0} y={0} width={813} height={565} fill="#fff" />
      {rowTop.map((y0, r) => {
        const yUp = d3.scaleLinear().domain([-1, 1]).range([y0 + panelH, y0]);
        const yDn = d3.scaleLinear().domain([-3, 3]).range([y0 + panelH, y0]);
        return (
          <g key={r}>
            <text x={1} y={y0 + 4} fontSize={13} fontFamily={SANS} fill="#222">
              {rowTags[r]}
            </text>
            <text
              transform={`translate(12.5, ${y0 + panelH / 2}) rotate(-90)`}
              textAnchor="middle"
              fontSize={14}
              fontFamily={SANS}
              fill="#222"
            >
              Energy (eV)
            </text>
            {[0, 1, 2].map((s) => {
              const xsUp = d3.scaleLinear().domain([0, 1]).range([upLeft[s], upLeft[s] + panelW]);
              const xsDn = d3.scaleLinear().domain([0, 1]).range([dnLeft[s], dnLeft[s] + panelW]);
              return (
                <g key={s}>
                  <Panel
                    id={`cu${r}${s}`}
                    x0={upLeft[s]}
                    y0={y0}
                    bands={upBands[r][s]}
                    dom={[-1, 1]}
                    ticks={upTicks}
                    side="left"
                    title="spin-up"
                  />
                  <Panel
                    id={`cd${r}${s}`}
                    x0={dnLeft[s]}
                    y0={y0}
                    bands={dnBands[r][s]}
                    dom={[-3, 3]}
                    ticks={dnTicks}
                    side="right"
                    title="spin-down"
                  />
                  <circle
                    cx={xsUp(kLabelPos[2])}
                    cy={yUp(hotspotE[r][s])}
                    r={7.5}
                    fill="#8ee063"
                    opacity={0.55}
                  />
                  <text
                    x={dnLeft[s] + panelW - 6}
                    y={yDn(0) - 5}
                    textAnchor="end"
                    fontSize={13}
                    fontFamily={SERIF}
                    fill="#222"
                  >
                    {strains[s]}
                  </text>
                  {r === 0 && s === 1 && (
                    <g>
                      <line
                        x1={xsDn(kLabelPos[1])}
                        x2={xsDn(kLabelPos[1])}
                        y1={yDn(gapTop)}
                        y2={yDn(gapBottom)}
                        stroke="#8ee063"
                        strokeWidth={2.5}
                      />
                      <text
                        x={xsDn(kLabelPos[1]) - 4}
                        y={yDn((gapTop + gapBottom) / 2)}
                        dy="0.4em"
                        textAnchor="end"
                        fontSize={12.5}
                        fontFamily={SERIF}
                        fill="#222"
                      >
                        Δ
                      </text>
                    </g>
                  )}
                  {s === 0 && (
                    <text x={upLeft[s] + 4} y={y0 + 18.5} fontSize={12} fontFamily={SANS} fill="#222">
                      {compounds[r]}
                      <tspan fontSize={9}>3</tspan>
                    </text>
                  )}
                </g>
              );
            })}
          </g>
        );
      })}
    </svg>
  );
}
